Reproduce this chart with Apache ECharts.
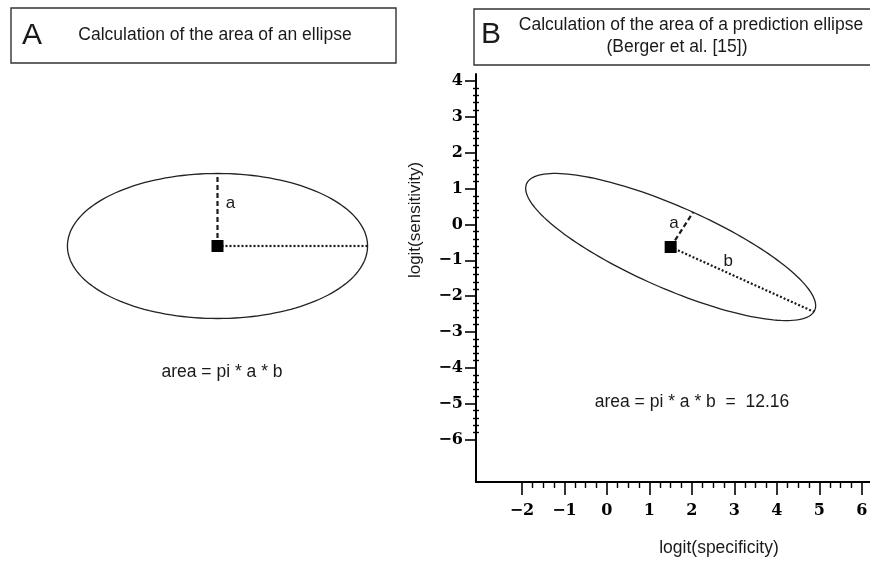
<!DOCTYPE html>
<html>
<head>
<meta charset="utf-8">
<script src="https://cdn.jsdelivr.net/npm/echarts@6/dist/echarts.min.js"></script>
<style>
  html, body { margin: 0; padding: 0; background: #fff; }
  #chart { width: 870px; height: 561px; }
</style>
</head>
<body>
<div id="chart"></div>
<script>
// panel A: plain ellipse, units where a = 1
const centerA = [0, 0];
const majorEndA = [2.07, 0];
const minorEndA = [0, 1];

// panel B: prediction ellipse in logit space
const centerB = [1.5, -0.63];
const majorEndB = [4.87, -2.44];
const minorEndB = [2.03, 0.34];

const xTicks = [-2, -1, 0, 1, 2, 3, 4, 5, 6];
const yTicks = [-6, -5, -4, -3, -2, -1, 0, 1, 2, 3, 4];

const titleA = "Calculation of the area of an ellipse";
const titleB1 = "Calculation of the area of a prediction ellipse";
const titleB2 = "(Berger et al. [15])";
const areaTextA = "area = pi * a * b";
const areaTextB = "area = pi * a * b  =  12.16";
const xName = "logit(specificity)";
const yName = "logit(sensitivity)";

// minor ticks between the labelled ones
function minorBetween(ticks, parts) {
  const out = [];
  for (let i = 0; i < ticks.length - 1; i++) {
    const step = (ticks[i + 1] - ticks[i]) / parts;
    for (let k = 1; k < parts; k++) out.push(+(ticks[i] + k * step).toFixed(3));
  }
  return out;
}
const xMinor = minorBetween(xTicks, 4);
const yMinor = minorBetween(yTicks, 5);

const chart = echarts.init(document.getElementById("chart"));

const sans = "'Liberation Sans', Arial, sans-serif";
const serif = "'DejaVu Serif', 'Liberation Serif', serif";
const ink = "#1a1a1a";

function fmtTick(v) {
  return String(v).replace("-", "\u2212");
}

function ellipseRenderer(labels) {
  return function (params, api) {
    const c = api.coord([api.value(0), api.value(1)]);
    const m = api.coord([api.value(2), api.value(3)]);
    const n = api.coord([api.value(4), api.value(5)]);
    const mx = m[0] - c[0], my = m[1] - c[1];
    const nx = n[0] - c[0], ny = n[1] - c[1];
    const pts = [];
    for (let i = 0; i < 160; i++) {
      const t = (i / 160) * Math.PI * 2;
      pts.push([
        c[0] + Math.cos(t) * mx + Math.sin(t) * nx,
        c[1] + Math.cos(t) * my + Math.sin(t) * ny,
      ]);
    }
    const children = [
      {
        type: "polygon",
        shape: { points: pts },
        style: { fill: "none", stroke: "#222", lineWidth: 1.3 },
      },
      {
        type: "line",
        shape: { x1: c[0], y1: c[1], x2: n[0], y2: n[1] },
        style: { stroke: ink, lineWidth: 2.2, lineDash: [5, 3] },
      },
      {
        type: "line",
        shape: { x1: c[0], y1: c[1], x2: m[0], y2: m[1] },
        style: { stroke: ink, lineWidth: 2.2, lineDash: [2, 2] },
      },
      {
        type: "rect",
        shape: { x: c[0] - 6, y: c[1] - 6, width: 12, height: 12 },
        style: { fill: "#000" },
      },
    ];
    labels.forEach(function (lb) {
      const end = lb.along === "minor" ? n : m;
      children.push({
        type: "text",
        x: (c[0] + end[0]) / 2 + lb.dx,
        y: (c[1] + end[1]) / 2 + lb.dy,
        style: {
          text: lb.text,
          fontSize: 17,
          fontFamily: sans,
          fill: ink,
          align: "center",
          verticalAlign: "middle",
        },
      });
    });
    return { type: "group", children: children };
  };
}

const hiddenAxis = {
  show: false,
  type: "value",
  min: -3,
  max: 3,
  splitLine: { show: false },
};

const tickFont = {
  formatter: fmtTick,
  fontFamily: serif,
  fontWeight: "bold",
  fontSize: 16,
  color: "#000",
};

const option = {
  backgroundColor: "#fff",
  animation: false,
  grid: [
    { left: 0, top: 28.5, width: 435, height: 435, outerBoundsMode: "none" },
    { left: 476, top: 74, width: 394, height: 408, outerBoundsMode: "none" },
  ],
  xAxis: [
    Object.assign({ gridIndex: 0 }, hiddenAxis),
    {
      gridIndex: 1,
      type: "value",
      position: "bottom",
      min: -3.08,
      max: 6.19,
      axisLine: { show: true, onZero: false, lineStyle: { color: "#000", width: 2 } },
      axisTick: { show: true, length: 13, customValues: xTicks, lineStyle: { color: "#000", width: 1.6 } },
      axisLabel: Object.assign({ customValues: xTicks, margin: 21 }, tickFont),
      splitLine: { show: false },
    },
    {
      gridIndex: 1,
      type: "value",
      position: "bottom",
      min: -3.08,
      max: 6.19,
      axisLine: { show: false, onZero: false },
      axisTick: { show: true, length: 6, customValues: xMinor, lineStyle: { color: "#000", width: 1.4 } },
      axisLabel: { show: false, customValues: xMinor },
      splitLine: { show: false },
    },
  ],
  yAxis: [
    Object.assign({ gridIndex: 0 }, hiddenAxis),
    {
      gridIndex: 1,
      type: "value",
      position: "left",
      min: -7.19,
      max: 4.2,
      axisLine: { show: true, onZero: false, lineStyle: { color: "#000", width: 2 } },
      axisTick: { show: true, length: 11, customValues: yTicks, lineStyle: { color: "#000", width: 1.6 } },
      axisLabel: Object.assign({ customValues: yTicks, margin: 13 }, tickFont),
      splitLine: { show: false },
    },
    {
      gridIndex: 1,
      type: "value",
      position: "left",
      min: -7.19,
      max: 4.2,
      offset: -3,
      axisLine: { show: false, onZero: false },
      axisTick: { show: true, length: 6, customValues: yMinor, lineStyle: { color: "#000", width: 1.4 } },
      axisLabel: { show: false, customValues: yMinor },
      splitLine: { show: false },
    },
  ],
  series: [
    {
      type: "custom",
      xAxisIndex: 0,
      yAxisIndex: 0,
      encode: { x: [0, 2, 4], y: [1, 3, 5] },
      renderItem: ellipseRenderer([{ text: "a", along: "minor", dx: 13, dy: -6 }]),
      data: [centerA.concat(majorEndA, minorEndA)],
    },
    {
      type: "custom",
      xAxisIndex: 1,
      yAxisIndex: 1,
      encode: { x: [0, 2, 4], y: [1, 3, 5] },
      renderItem: ellipseRenderer([
        { text: "a", along: "minor", dx: -8, dy: -6 },
        { text: "b", along: "major", dx: -14, dy: -18 },
      ]),
      data: [centerB.concat(majorEndB, minorEndB)],
    },
  ],
  graphic: [
    { type: "rect", shape: { x: 11, y: 8, width: 385, height: 55 }, style: { fill: "none", stroke: "#333", lineWidth: 1.4 } },
    { type: "rect", shape: { x: 474, y: 9, width: 420, height: 56 }, style: { fill: "none", stroke: "#333", lineWidth: 1.4 } },
    { type: "text", x: 32, y: 36, style: { text: "A", fontSize: 30, fontFamily: sans, fill: ink, align: "center", verticalAlign: "middle" } },
    { type: "text", x: 215, y: 35, style: { text: titleA, fontSize: 17.5, fontFamily: sans, fill: ink, align: "center", verticalAlign: "middle" } },
    { type: "text", x: 491, y: 35, style: { text: "B", fontSize: 30, fontFamily: sans, fill: ink, align: "center", verticalAlign: "middle" } },
    { type: "text", x: 691, y: 25, style: { text: titleB1, fontSize: 17.5, fontFamily: sans, fill: ink, align: "center", verticalAlign: "middle" } },
    { type: "text", x: 677, y: 47, style: { text: titleB2, fontSize: 17.5, fontFamily: sans, fill: ink, align: "center", verticalAlign: "middle" } },
    { type: "text", x: 222, y: 372, style: { text: areaTextA, fontSize: 17.5, fontFamily: sans, fill: ink, align: "center", verticalAlign: "middle" } },
    { type: "text", x: 692, y: 402, style: { text: areaTextB, fontSize: 17.5, fontFamily: sans, fill: ink, align: "center", verticalAlign: "middle" } },
    { type: "text", x: 719, y: 548, style: { text: xName, fontSize: 17.5, fontFamily: sans, fill: ink, align: "center", verticalAlign: "middle" } },
    { type: "text", x: 415, y: 220, rotation: Math.PI / 2, style: { text: yName, fontSize: 17, fontFamily: sans, fill: ink, align: "center", verticalAlign: "middle" } },
  ],
};

chart.setOption(option);
</script>
</body>
</html>
